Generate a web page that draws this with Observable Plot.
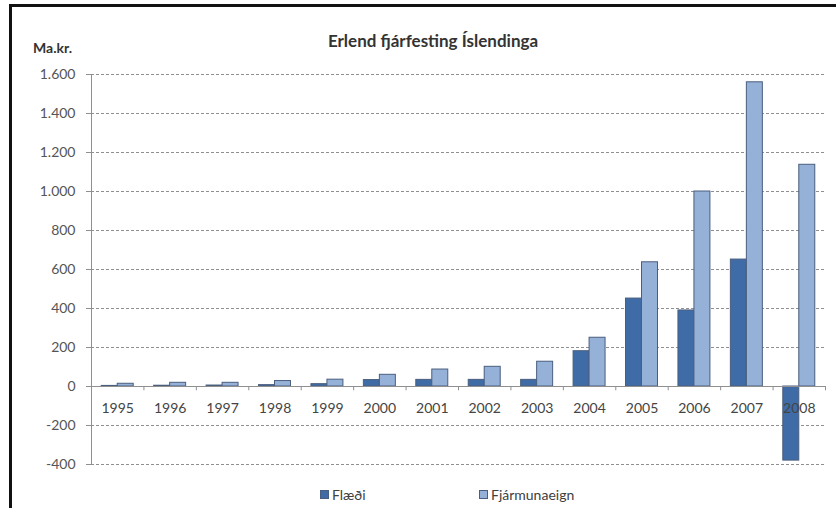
<!DOCTYPE html>
<html>
<head>
<meta charset="utf-8">
<script src="https://cdn.jsdelivr.net/npm/d3@7"></script>
<script src="https://cdn.jsdelivr.net/npm/@observablehq/plot@0.6"></script>
<style>
  html, body { margin: 0; padding: 0; background: #fff; }
  #wrap { position: relative; width: 838px; height: 508px; overflow: hidden; font-family: Lato, "Open Sans", sans-serif; }
  #frame { position: absolute; left: 9px; top: 4px; width: 827px; height: 520px; border-left: 3px solid #111; border-top: 3px solid #111; box-sizing: border-box; }
  #title { position: absolute; left: 0; width: 866px; top: 30px; text-align: center; font-weight: bold; font-size: 17px; color: #333; }
  #unit { position: absolute; left: 33px; top: 39px; font-weight: bold; font-size: 14px; color: #333; }
  #legend { position: absolute; top: 486px; left: 0; width: 838px; font-size: 14px; line-height: 17px; color: #404040; }
  .item { position: absolute; display: flex; align-items: center; gap: 3px; }
  .sw { width: 9px; height: 9px; border: 1px solid #4a5f80; box-sizing: border-box; }
  #chart { position: absolute; left: 0; top: 0; }
</style>
</head>
<body>
<div id="wrap">
  <div id="chart"></div>
  <div id="frame"></div>
  <div id="title">Erlend fjárfesting Íslendinga</div>
  <div id="unit">Ma.kr.</div>
  <div id="legend"></div>
</div>
<script>
// Erlend fjárfesting Íslendinga, ma.kr.
const years = [1995, 1996, 1997, 1998, 1999, 2000, 2001, 2002, 2003, 2004, 2005, 2006, 2007, 2008];
const flaedi = [3, 4, 5, 7, 12, 33, 34, 34, 34, 181, 451, 390, 651, -380];
const fjarmunaeign = [14, 19, 19, 28, 35, 60, 87, 101, 127, 250, 637, 1000, 1560, 1137];
const yTicks = [-400, -200, 0, 200, 400, 600, 800, 1000, 1200, 1400, 1600];
const seriesNames = ["Flæði", "Fjármunaeign"];
const seriesColors = ["#3f6ca6", "#95b1d7"];

const rows = years.flatMap((year, i) => [
  {year, series: seriesNames[0], value: flaedi[i]},
  {year, series: seriesNames[1], value: fjarmunaeign[i]}
]);

// half-width of each bar pair, in category units
const half = 0.305;
const boundaries = [years[0] - 0.5, ...years.map(y => y + 0.5)];

const isFormat = d3.formatLocale({decimal: ",", thousands: ".", grouping: [3], currency: ["", " kr."], minus: "-"}).format(",");

const plot = Plot.plot({
  width: 838,
  height: 508,
  marginLeft: 91,
  marginRight: 13,
  marginTop: 74,
  marginBottom: 44,
  style: {fontFamily: "Lato, 'Open Sans', sans-serif", background: "transparent"},
  x: {type: "linear", domain: [years[0] - 0.5, years[years.length - 1] + 0.5], axis: null},
  y: {domain: [-400, 1600], axis: null},
  color: {domain: seriesNames, range: seriesColors},
  marks: [
    // dashed gridlines
    Plot.ruleY(yTicks.filter(d => d !== 0), {stroke: "#8f8f8f", strokeDasharray: "3,2", strokeWidth: 1}),
    Plot.axisY({ticks: yTicks, tickSize: 5, tickPadding: 11, tickFormat: isFormat, fontSize: 14, stroke: "#8f8f8f", color: "#555", line: false, label: null}),
    // vertical axis line
    Plot.ruleX([years[0] - 0.5], {y1: -400, y2: 1600, stroke: "#8f8f8f"}),
    // bars
    Plot.rectY(rows, {
      x1: d => d.series === seriesNames[0] ? d.year - half : d.year,
      x2: d => d.series === seriesNames[0] ? d.year : d.year + half,
      y1: 0,
      y2: "value",
      fill: "series",
      stroke: "#4a5e7e",
      strokeWidth: 1
    }),
    // zero line with category tick marks
    Plot.ruleY([0], {stroke: "#8f8f8f"}),
    Plot.ruleX(boundaries, {y1: 0, y2: -22, stroke: "#8f8f8f"}),
    // category year labels just under the zero line
    Plot.text(years, {x: d => d, y: 0, dy: 22, text: d => String(d), fontSize: 14, fill: "#444"})
  ]
});
document.getElementById("chart").appendChild(plot);

// legend
const legend = document.getElementById("legend");
const legendX = [320, 479];
seriesNames.forEach((name, i) => {
  const item = document.createElement("div");
  item.className = "item";
  item.style.left = legendX[i] + "px";
  const sw = document.createElement("span");
  sw.className = "sw";
  sw.style.background = seriesColors[i];
  const label = document.createElement("span");
  label.textContent = name;
  item.append(sw, label);
  legend.appendChild(item);
});
</script>
</body>
</html>
